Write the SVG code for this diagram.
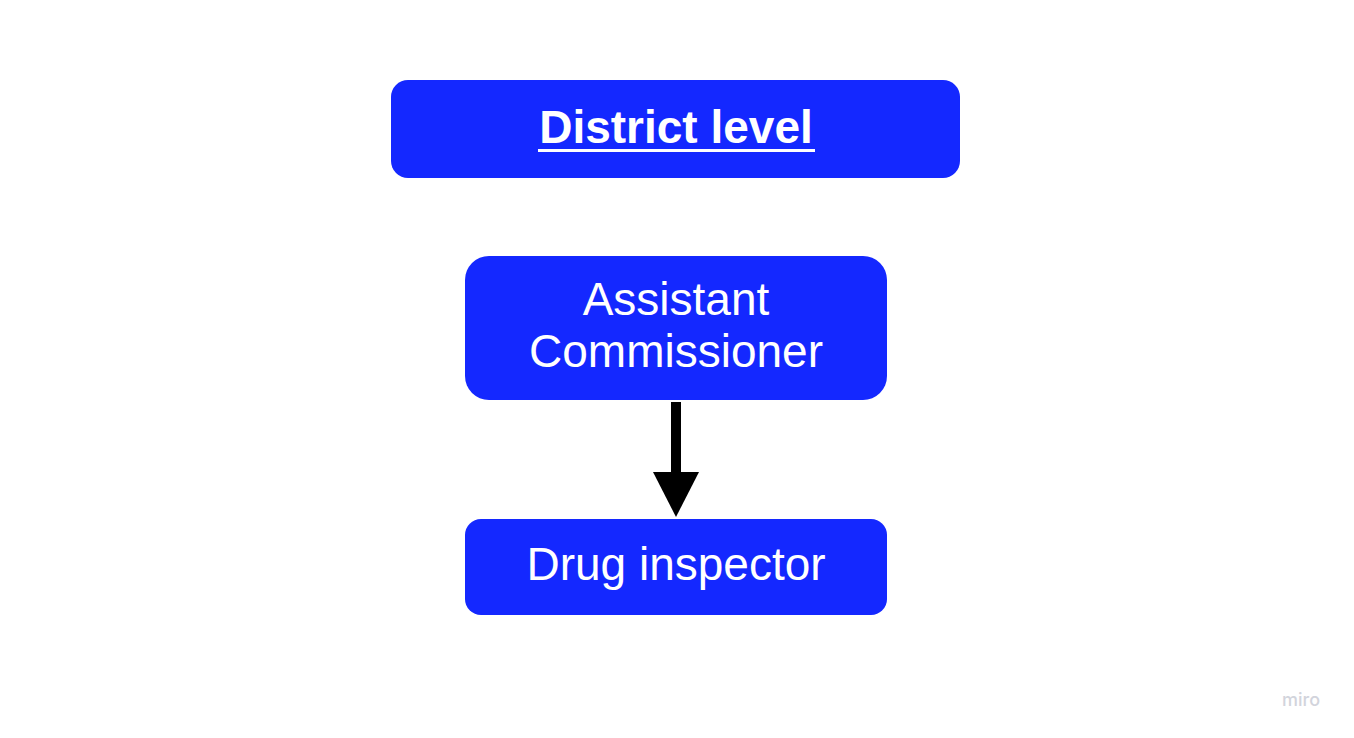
<svg xmlns="http://www.w3.org/2000/svg" width="1354" height="738" viewBox="0 0 1354 738">
<style>
.box{fill:#1428FF;}
.t{font-family:"Liberation Sans",Arial,sans-serif;fill:#fff;text-anchor:middle;font-size:46px;}
.b{font-weight:bold;}
</style>
<rect width="1354" height="738" fill="#fff"/>
<g id="district">
<rect class="box" x="391" y="80" width="569" height="98" rx="17"/>
<text class="t b" x="676" y="143">District level</text>
<rect x="538" y="149" width="277" height="3" fill="#fff"/>
</g>
<g id="assistant">
<rect class="box" x="465" y="256" width="422" height="144" rx="24"/>
<text class="t" x="676" y="315">Assistant</text>
<text class="t" x="676" y="367">Commissioner</text>
</g>
<g id="inspector">
<rect class="box" x="465" y="519" width="422" height="96" rx="16"/>
<text class="t" x="676" y="580">Drug inspector</text>
</g>
<g id="connectors">
<rect x="671" y="402" width="10" height="72" fill="#000"/>
<polygon points="653,472 699,472 676,517" fill="#000"/>
</g>
<text x="1301" y="706" font-family="Inter,'Liberation Sans',sans-serif" font-size="18" font-weight="500" fill="#d2d4dc" text-anchor="middle">miro</text>
</svg>
